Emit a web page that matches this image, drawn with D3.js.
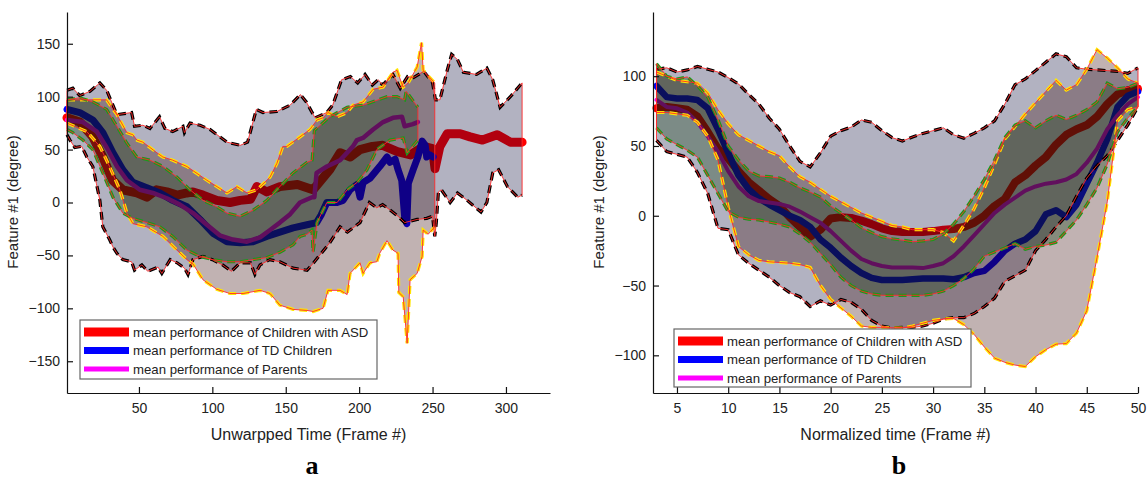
<!DOCTYPE html>
<html>
<head>
<meta charset="utf-8">
<script src="https://cdn.jsdelivr.net/npm/d3@7"></script>
<style>
  body { margin: 0; background: #fff; }
  text { font-family: Arial, "Liberation Sans", sans-serif; fill: #222; }
</style>
</head>
<body>
<svg id="chart" width="1148" height="480"></svg>
<script>
// ---------- panel a : unwarpped time, [frame, degree] ----------
const aAsdMean = [[1,80],[9.7,76],[18.6,62],[25.4,43],[32,21],[39,12],[48.6,9],[55.4,5],[62,12],[69,10],[76,7],[82.7,9],[86.8,10],[93.6,7],[103,2],[112,0],[119,2],[126,3],[130.4,15],[137,10],[146,15],[158,17],[168.6,12],[180,31],[187,47],[194,43],[200.6,50],[209,53],[216,54],[226,48],[235,45],[244,53],[250,51],[251.7,32],[255,53],[260,65],[268.8,65],[275.6,62],[284,59],[294,64],[303,57],[311,57]];
const aAsdUpper = [[1,106],[5,108],[9.7,101],[16.6,105],[23.4,113],[28,106],[35,83],[45,85],[47,72],[52.7,73],[57.5,70],[64,81],[67.7,70],[73,67],[80,72],[81,66],[84.8,75],[91.6,73],[98.4,69],[110,57],[119,54],[124,57],[130,88],[134.5,85],[144,86],[153,92],[160,102],[164,95],[170,80],[178,85],[182,92],[188,116],[194,119],[199,113],[204,121],[209,111],[213,116],[216,111],[223,121],[228,108],[233,119],[237,118],[244,124],[250,113],[252,97],[255,97],[260,125],[263,140],[267,135],[271,123],[280,121],[287,127],[291,116],[296,90],[303,100],[311,113]];
const aAsdLower = [[1,64],[3,59],[6.3,52],[11,53],[14.5,43],[18.6,34],[21,18],[23.4,2],[25.4,-23],[30,-35],[32.3,-42],[35,-48],[39,-54],[45,-56],[47,-64],[52,-59],[56,-65],[63,-61],[65.6,-67],[71.3,-54],[76,-57],[81,-62],[83.4,-68],[86.8,-54],[93.6,-51],[100,-54],[107,-59],[113,-65],[119,-57],[126,-57],[129,-68],[132.5,-59],[139,-54],[146,-56],[155,-62],[164.5,-64],[169,-57],[180,-38],[187,-23],[192,-28],[200.6,-19],[207,0],[212,-5],[216,-2],[221,-7],[226.5,-13],[231,-19],[239.5,-16],[246,-15],[250,-13],[251.5,-32],[252.5,-20],[254,10],[256,12],[262,0],[267,9],[273.6,2],[283,-9],[287,0],[291,28],[295,31],[301,15],[308,5],[311,7]];

const aTdMean = [[1,88],[9.7,85],[18.6,78],[25.4,66],[32.3,47],[39,31],[45.9,19],[55.4,14],[64.3,9],[73,2],[82.7,-4],[91.6,-16],[100.4,-29],[110,-37],[119,-38],[127.7,-37],[137,-32],[146,-28],[155,-24],[164.5,-21],[171,-19],[174,-12],[178,0],[185,0],[189,2],[193.8,12],[198.6,17],[200.6,5],[202.7,19],[207.4,23],[214,34],[219,43],[221,38],[224.5,41],[226.5,31],[229,21],[231,-14],[232.5,-20],[233.5,18],[236.8,31],[240,43],[242.9,58],[245,54],[246,43],[248,45],[250.4,43]];
const aTdUpper = [[1,97],[28,97],[32.3,88],[35,83],[41.8,66],[45.9,64],[48.6,59],[52.7,57],[57.5,52],[62.2,47],[66.3,43],[73,40],[82.7,34],[96.3,21],[110,9],[116.8,15],[123.6,9],[130.4,12],[137.2,21],[139.3,24],[144,37],[148,53],[150.8,53],[157.7,60],[166.5,69],[171.3,78],[175.4,80],[178.8,85],[185,81],[191.8,85],[195.8,92],[202.7,95],[209.5,107],[216.3,109],[223,123],[225.8,125],[229.9,109],[233.4,113],[239.5,128],[242.5,151],[243.6,125],[251.5,113]];
const aTdLower = [[1,75],[14.5,67],[23.4,53],[30,34],[37,12],[41.8,-10],[45.9,-20],[55.4,-23],[66.3,-32],[75.9,-45],[82.7,-54],[86.8,-58],[93.6,-73],[103,-82],[112,-86],[121,-86],[132.5,-83],[139.3,-86],[146,-97],[155,-101],[164.5,-102],[168.6,-103],[175.4,-100],[178.8,-83],[187,-83],[191.8,-87],[193.8,-67],[200.6,-57],[202.7,-67],[207.4,-57],[212,-56],[214,-48],[219,-36],[223,-45],[226.5,-48],[227,-85],[230,-89],[232.7,-133],[234.7,-73],[239.5,-67],[242.9,-51],[243.6,-26],[247,-30],[251.5,-23]];

const aParMean = [[1,78],[11.8,76],[21.3,67],[28,52],[35,34],[41.8,21],[50.6,12],[59.5,9],[69,4],[77.9,-2],[86.8,-10],[96.3,-21],[105,-31],[114,-35],[123.6,-37],[132.5,-33],[139.3,-26],[146,-19],[153,-11],[159.7,0],[167.9,5],[169.5,5],[171,28],[178,34],[187,40],[195.8,53],[198.5,59],[202.6,61],[209.5,69],[216.3,76],[223,80],[229.2,81],[231,72],[236.6,74],[240,76]];
const aParUpper = [[1,97],[9.7,99],[18.6,95],[28,88],[35,72],[41.8,56],[48.6,43],[57.5,40],[66.3,34],[75.9,24],[84.8,12],[93.6,2],[103,-4],[110,-10],[119,-13],[128,-7],[137.2,2],[146,15],[155,28],[164.5,38],[168,40],[169.5,68],[180,81],[191.8,90],[202.7,92],[219,100],[225.8,100],[231,97],[232,105],[240,90]];
const aParLower = [[1,69],[5,66],[11.8,59],[18.6,50],[25.4,28],[32.3,5],[39,-10],[45.9,-15],[55.4,-19],[64.3,-23],[73,-32],[82.7,-45],[91.6,-51],[100.4,-54],[110,-56],[119,-56],[127.7,-54],[137.2,-52],[146,-47],[155,-40],[159.7,-32],[164.5,-30],[167.9,-26],[168.6,-47],[171.3,-19],[178,0],[185,0],[191.8,12],[198.6,19],[205.4,31],[212,50],[221,59],[230,61],[232.7,47],[240,59]];

// ---------- panel b : normalized time, one value per frame ----------
const bFrames = [3,4,5,6,7,8,9,10,11,12,13,14,15,16,17,18,19,20,21,22,23,24,25,26,27,28,29,30,31,32,33,34,35,36,37,38,39,40,41,42,43,44,45,46,47,48,49,50];
const bAsdMean  = [77,78,77,76,71,60,48,41,32,24,18,12,7,-1,-8,-15,-10,-2,-1,-1.6,-3.5,-6,-9,-11,-11.6,-11.6,-11.6,-11,-10,-9.5,-8,-5,0,7,12,24,29,36,42,51,58,62,65,71,80,87,90,91];
const bAsdUpper = [105,106,103,104.5,107,105,103,99,94.5,87,80,70,62,50,39,35,45,57,61,63.5,68.6,67,61,56,53.5,56.5,59,61,63,58,55.6,59,63,68,80,94,98,104,110,116,114,106,105,104.5,104,103.5,102,106];
const bAsdLower = [54,46,44,42,31,16,-9,-10,-28,-34,-39,-44,-50,-55,-58,-65,-61,-64,-60,-62,-67,-75,-79,-80.5,-80,-80,-79,-77,-74,-73,-73,-70,-65,-59,-47,-43,-39,-25,-17,-8,0,14,27,36,43,54,65,78];
const bTdMean   = [93,85,84,84,83,77,62,45,29,19,12.5,8,4,0,-3,-8,-17,-23,-30,-36,-41,-44.5,-46,-46,-46,-45.5,-45,-45,-45,-45.5,-44,-41,-39.5,-33,-25,-20,-17,-11,1,4,-1,8,23,38,55,78,86,89];
const bTdUpper  = [103,100,97,96,95,88,76,66,58,54,50,46,43,35,28,24,19,14,10,6,2,-1,-4,-7,-8,-10,-10,-10,-12,-18,-7,5,20,37,55,64,73,81,89,97,90,94,105,119,113,106,98,95];
const bTdLower  = [74,74,73,72,67,57,40,6,-22,-28,-32,-33,-33.5,-34,-35,-37,-50,-60,-66,-72,-79,-80,-80,-80.5,-80.5,-79,-77,-75,-74,-73.6,-78,-85,-94,-102,-105,-107,-108,-101,-96,-92,-91.6,-84,-68,-30,10,68,76,78];
const bParMean  = [83,78,77,74,67,57,46,32,21,14,10.5,9.5,8.5,6.5,3,-1,-5,-11,-18,-25,-31,-34,-36,-37,-37,-37,-37.5,-36,-34,-29,-22,-14,-6,2,8,13,18,21,23,24,26,30,38,48,62,72,80,85];
const bParUpper = [109,100,98,99.5,93,85,69,50,40,32,28.5,28,27,24,20,17,13.4,7,2,-3,-8.5,-12,-15,-16.5,-17.5,-18.6,-18,-17,-13,-6,3,14,26,40,56,65,68,63,68,72,69,72,76,81.5,95,91,92,95];
const bParLower = [63,55,51,47,42,29,16,3,-1,-2.5,-3,-4.5,-6,-8,-13,-19,-27,-35,-44,-50,-54,-56,-57,-57,-57,-57,-57,-56,-54,-50,-45,-38,-29,-26,-23,-20,-24,-22,-21,-19,-11,-3,8,20,37,60,70,78];

const legendLabels = ['mean performance of Children with ASD', 'mean performance of TD Children', 'mean performance of Parents'];

const svg = d3.select('#chart');

function drawPanel(p) {
  const x = d3.scaleLinear().domain(p.xDomain).range(p.xRange);
  const y = d3.scaleLinear().domain(p.yDomain).range([393, 12]);
  const line = d3.line().x(d => x(d[0])).y(d => y(d[1]));
  const g = svg.append('g');

  // means go first, the transparent bands are laid over them
  p.groups.forEach(gr => {
    g.append('path')
      .attr('d', line(gr.mean))
      .attr('fill', 'none')
      .attr('stroke', gr.color)
      .attr('stroke-width', gr.width)
      .attr('stroke-linejoin', 'round')
      .attr('stroke-linecap', 'round');
  });

  const polys = p.groups.map(gr => gr.upper.concat(gr.lower.slice().reverse()));
  p.groups.forEach((gr, i) => {
    g.append('path')
      .attr('d', line(polys[i]) + 'Z')
      .attr('fill', gr.fill)
      .attr('fill-opacity', 0.3);
  });

  // dashed std edges, then the thin red outline of each patch
  p.groups.forEach(gr => {
    [gr.upper, gr.lower].forEach(edge => {
      g.append('path')
        .attr('d', line(edge))
        .attr('fill', 'none')
        .attr('stroke', gr.dash)
        .attr('stroke-width', 3.2)
        .attr('stroke-dasharray', '8,5');
    });
  });
  polys.forEach(poly => {
    g.append('path')
      .attr('d', line(poly) + 'Z')
      .attr('fill', 'none')
      .attr('stroke', '#ff2a2a')
      .attr('stroke-width', 0.9);
  });

  // axes, ticks pointing inward
  const xAxis = g.append('g').attr('transform', 'translate(0,393)')
    .call(d3.axisBottom(x).tickValues(p.xTicks).tickSizeInner(-6).tickSizeOuter(0).tickPadding(10));
  const yAxis = g.append('g').attr('transform', `translate(${p.xRange[0]},0)`)
    .call(d3.axisLeft(y).tickValues(p.yTicks).tickSizeInner(-6).tickSizeOuter(0).tickPadding(7));
  [xAxis, yAxis].forEach(ax => {
    ax.selectAll('path, line').attr('stroke', '#111').attr('stroke-width', 1.2);
    ax.selectAll('text').attr('font-size', 14).style('fill', '#222');
  });

  const cx = (p.xRange[0] + p.xRange[1]) / 2;
  g.append('text')
    .attr('x', cx).attr('y', 440)
    .attr('text-anchor', 'middle')
    .attr('font-size', 16)
    .text(p.xLabel);
  g.append('text')
    .attr('transform', `translate(${p.yLabelX},202) rotate(-90)`)
    .attr('text-anchor', 'middle')
    .attr('font-size', 15)
    .text('Feature #1 (degree)');
  g.append('text')
    .attr('x', p.letterX).attr('y', 474)
    .attr('text-anchor', 'middle')
    .style('font-family', '"Liberation Serif", "Times New Roman", serif')
    .style('font-weight', 'bold')
    .style('font-size', '26px')
    .style('fill', '#000')
    .text(p.letter);

  // legend
  const L = p.legend;
  const lg = g.append('g').attr('transform', `translate(${L.x},${L.y})`);
  lg.append('rect')
    .attr('width', L.w).attr('height', L.h)
    .attr('fill', '#fff').attr('stroke', '#666').attr('stroke-width', 1.2);
  p.groups.forEach((gr, i) => {
    const yy = 12 + i * 18.5;
    lg.append('line')
      .attr('x1', 4).attr('x2', 49).attr('y1', yy).attr('y2', yy)
      .attr('stroke', gr.legendColor).attr('stroke-width', gr.legendWidth);
    lg.append('text')
      .attr('x', 53).attr('y', yy + 4.5)
      .attr('font-size', 13.2)
      .text(legendLabels[i]);
  });
}

function pairs(values) { return d3.zip(bFrames, values); }

drawPanel({
  xDomain: [1, 330], xRange: [67, 550],
  yDomain: [-180, 180],
  xTicks: [50, 100, 150, 200, 250, 300],
  yTicks: [-150, -100, -50, 0, 50, 100, 150],
  xLabel: 'Unwarpped Time (Frame #)', yLabelX: 18,
  letter: 'a', letterX: 312,
  legend: { x: 80, y: 320, w: 297, h: 59 },
  groups: [
    { mean: aAsdMean, upper: aAsdUpper, lower: aAsdLower, color: '#ff0000', width: 9, fill: '#000033', dash: '#000', legendColor: '#ff0000', legendWidth: 9 },
    { mean: aTdMean, upper: aTdUpper, lower: aTdLower, color: '#0000ff', width: 7, fill: '#330000', dash: '#ffe600', legendColor: '#0000ff', legendWidth: 7 },
    { mean: aParMean, upper: aParUpper, lower: aParLower, color: '#ff00ff', width: 4.5, fill: '#003300', dash: '#1a9a1a', legendColor: '#ff00ff', legendWidth: 5 }
  ]
});

drawPanel({
  xDomain: [2.66, 50], xRange: [653, 1138],
  yDomain: [-127, 146],
  xTicks: [5, 10, 15, 20, 25, 30, 35, 40, 45, 50],
  yTicks: [-100, -50, 0, 50, 100],
  xLabel: 'Normalized time (Frame #)', yLabelX: 604,
  letter: 'b', letterX: 899,
  legend: { x: 674, y: 329, w: 297, h: 58 },
  groups: [
    { mean: pairs(bAsdMean), upper: pairs(bAsdUpper), lower: pairs(bAsdLower), color: '#ff0000', width: 8, fill: '#000033', dash: '#000', legendColor: '#ff0000', legendWidth: 9 },
    { mean: pairs(bTdMean), upper: pairs(bTdUpper), lower: pairs(bTdLower), color: '#0000ff', width: 6.5, fill: '#330000', dash: '#ffe600', legendColor: '#0000ff', legendWidth: 7 },
    { mean: pairs(bParMean), upper: pairs(bParUpper), lower: pairs(bParLower), color: '#ff00ff', width: 4, fill: '#003300', dash: '#1a9a1a', legendColor: '#ff00ff', legendWidth: 5 }
  ]
});
</script>
</body>
</html>
